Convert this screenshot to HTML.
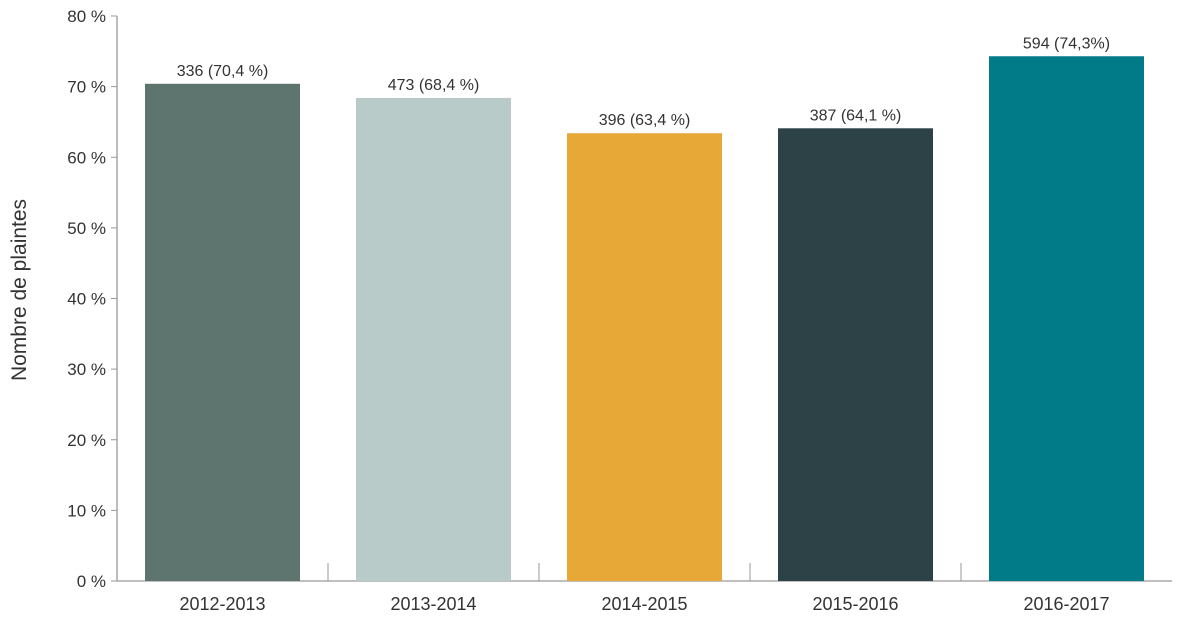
<!DOCTYPE html>
<html><head><meta charset="utf-8"><style>
body{margin:0;background:#fff}
svg{display:block}
text{font-family:"Liberation Sans",sans-serif;fill:#333}
</style></head><body>
<svg width="1192" height="620">
<g id="axes"></g><g id="bars"></g>
<text transform="translate(26,290) rotate(-90)" text-anchor="middle" font-size="21">Nombre de plaintes</text>
</svg>
<script>
const categories=["2012-2013","2013-2014","2014-2015","2015-2016","2016-2017"];
const values=[70.4,68.4,63.4,64.1,74.3];
const valueLabels=["336 (70,4 %)","473 (68,4 %)","396 (63,4 %)","387 (64,1 %)","594 (74,3%)"];
const colors=["#5d746f","#b8cbc8","#e8a838","#2d4246","#007b87"];
const yTicks=[0,10,20,30,40,50,60,70,80];
const NS="http://www.w3.org/2000/svg";
const x0=117,x1=1172,y0=581,y80=16;
const y=v=>y0-(v/80)*(y0-y80);
const bw=(x1-x0)/categories.length;
const axes=document.getElementById('axes'),bars=document.getElementById('bars');
function mk(tag,attrs,parent){const e=document.createElementNS(NS,tag);for(const k in attrs)e.setAttribute(k,attrs[k]);parent.appendChild(e);return e;}
let l=mk('line',{x1:x0,y1:y80,x2:x0,y2:y0,stroke:'#999','stroke-width':1.3},axes);


l=mk('line',{x1:x0,y1:y0,x2:x1,y2:y0,stroke:'#999','stroke-width':1.3},axes);


yTicks.forEach(t=>{
 const tk=mk('line',{x1:x0-6,y1:y(t),x2:x0,y2:y(t),stroke:'#999'},axes);
 
 
 const tx=mk('text',{x:106,y:y(t)+6,'text-anchor':'end','font-size':17},axes);
 tx.textContent=t+' %';
 
 
});
for(let i=1;i<categories.length;i++){
 const tk=mk('line',{x1:x0+bw*i,y1:y0-18,x2:x0+bw*i,y2:y0,stroke:'#999'},axes);
 
 
}
categories.forEach((c,i)=>{
 const cx=x0+bw*(i+0.5),w=155;
 const r=mk('rect',{x:cx-w/2,y:y(values[i]),width:w,height:y0-y(values[i]),fill:colors[i]},bars);
 
 
 const vl=mk('text',{x:cx,y:y(values[i])-8,'text-anchor':'middle','font-size':16},bars);
 vl.textContent=valueLabels[i];
 
 
 const cl=mk('text',{x:cx,y:610,'text-anchor':'middle','font-size':18},bars);
 cl.textContent=c;
 
 
});
</script>
</body></html>
